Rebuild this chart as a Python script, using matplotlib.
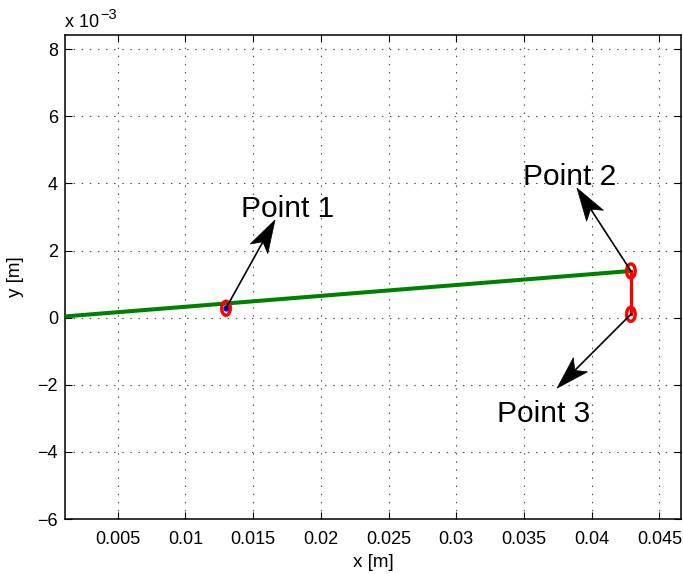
import numpy as np
import matplotlib
matplotlib.use("Agg")
import matplotlib.pyplot as plt
from matplotlib import font_manager
from matplotlib.patches import Ellipse, Polygon

# ---- data (metres) ----
beam_x = [0.0, 0.0429]
beam_y = [0.0, 0.00139]
link_x = [0.0429, 0.0429]
link_y = [0.00139, 0.0001]

point_x = [0.0130, 0.0429, 0.0429]
point_y = [0.00028, 0.00139, 0.0001]
point_labels = ["Point 1", "Point 2", "Point 3"]

head_x = [0.01662, 0.03892, 0.03745]
head_y = [0.00291, 0.00386, -0.00210]
label_x = [0.01411, 0.03494, 0.03302]
label_y = [0.00300, 0.00395, -0.00311]

xtick_vals = [0.005, 0.01, 0.015, 0.02, 0.025, 0.03, 0.035, 0.04, 0.045]
xtick_text = ["0.005", "0.01", "0.015", "0.02", "0.025", "0.03", "0.035", "0.04", "0.045"]
ytick_vals = [-6e-3, -4e-3, -2e-3, 0.0, 2e-3, 4e-3, 6e-3, 8e-3]
ytick_text = ["\u22126", "\u22124", "\u22122", "0", "2", "4", "6", "8"]

plt.rcParams["font.family"] = ["Liberation Sans", "DejaVu Sans"]


def pick_family(names):
    for n in names:
        try:
            font_manager.findfont(font_manager.FontProperties(family=n),
                                  fallback_to_default=False)
            return n
        except Exception:
            continue
    return "DejaVu Sans"


narrow = pick_family(["Liberation Sans Narrow", "Liberation Sans"])
label_size = 24 if narrow == "Liberation Sans Narrow" else 21.5

fig = plt.figure(figsize=(6.83, 5.74), dpi=100)
ax = fig.add_axes([65 / 683, 1 - 519 / 574, 616 / 683, 484.3 / 574])

ax.set_xlim(0.00111, 0.0466)
ax.set_ylim(-6e-3, 8.43e-3)

ax.set_xticks(xtick_vals)
ax.set_xticklabels(xtick_text)
ax.set_yticks(ytick_vals)
ax.set_yticklabels(ytick_text)

ax.tick_params(direction="in", top=True, right=True, length=5, width=0.8,
               labelsize=13)
ax.tick_params(axis="x", pad=8.5)
ax.tick_params(axis="y", pad=5)
for s in ax.spines.values():
    s.set_linewidth(1.1)

ax.grid(True, color="0.3", linewidth=0.8, linestyle=(0, (1.3, 6.0)))
ax.set_axisbelow(True)

ax.set_xlabel("x [m]", fontsize=13.5)
ax.xaxis.set_label_coords(0.5, -0.09)
ax.xaxis.label.set_va("center")
ax.set_ylabel("y [m]", fontsize=13.5)
ax.yaxis.set_label_coords(-0.08, 0.5)
ax.yaxis.label.set_va("center")

# exponent note above the y axis
ax.text(0.0, 1.016, "x 10", transform=ax.transAxes, fontsize=13,
        ha="left", va="baseline")
ax.text(0.057, 1.033, "\u22123", transform=ax.transAxes, fontsize=10.5,
        ha="left", va="baseline")

# beam and link
ax.plot(beam_x, beam_y, color="#008000", linewidth=2.9, solid_capstyle="butt", zorder=3)
ax.plot(link_x, link_y, color="#ff0000", linewidth=2.3, zorder=3)

# marked points
ax.plot(point_x[0], point_y[0], "o", color="#0000ff", markersize=3.5, zorder=4)
for px, py in zip(point_x, point_y):
    ax.add_patch(Ellipse((px, py), width=0.00064, height=0.00042, fill=False,
                         edgecolor="#ff0000", linewidth=2.4, zorder=5))

# arrows with stealth heads drawn in pixel space
to_px = ax.transData.transform
to_data = ax.transData.inverted().transform
L, W, notch = 33.0, 10.0, 8.0
for tx, ty, hx, hy, lx, ly, lab in zip(point_x, point_y, head_x, head_y,
                                       label_x, label_y, point_labels):
    p0 = to_px((tx, ty))
    p1 = to_px((hx, hy))
    u = (p1 - p0) / np.hypot(*(p1 - p0))
    n = np.array([-u[1], u[0]])
    back = p1 - (L - notch) * u
    ax.plot([tx, to_data(back)[0]], [ty, to_data(back)[1]], color="black",
            linewidth=1.2, zorder=6)
    pts = np.array([p1, p1 - L * u + W * n, back, p1 - L * u - W * n])
    ax.add_patch(Polygon(to_data(pts), closed=True, facecolor="black",
                         edgecolor="black", linewidth=0.5, zorder=6))
    ax.text(lx, ly, lab, fontsize=label_size, family=[narrow, "DejaVu Sans"],
            ha="left", va="baseline", zorder=7)

fig.savefig("out.png", dpi=100)
